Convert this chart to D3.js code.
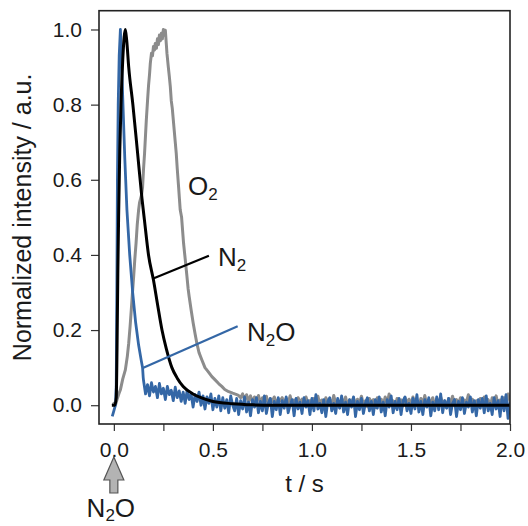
<!DOCTYPE html>
<html>
<head>
<meta charset="utf-8">
<script src="https://cdn.jsdelivr.net/npm/d3@7"></script>
<style>
  body { margin: 0; background: #fff; }
  svg text { font-family: "Liberation Sans", Arial, sans-serif; fill: #1a1a1a; }
</style>
</head>
<body>
<div id="vis"></div>
<script>
const FRAME_WIDTH = 528;
const FRAME_HEIGHT = 526;
const MARGINS = {left: 99, right: 18, top: 10.7, bottom: 102};

// tick values
const X_MAJOR = [0, 0.5, 1.0, 1.5, 2.0];
const X_MINOR = [0.25, 0.75, 1.25, 1.75];
const Y_TICKS = [0, 0.2, 0.4, 0.6, 0.8, 1.0];

// N2O (blue) pulse as [t, value]
const n2oPeak = [
  [-0.008, -0.03], [0.0, -0.015], [0.008, 0.0], [0.012, 0.05], [0.015, 0.3],
  [0.018, 0.6], [0.022, 0.8], [0.027, 0.93], [0.033, 1.0], [0.038, 0.93],
  [0.046, 0.8], [0.055, 0.66], [0.066, 0.52], [0.08, 0.4], [0.095, 0.3],
  [0.11, 0.22], [0.125, 0.16], [0.138, 0.12], [0.145, 0.1], [0.148, 0.075]
];
// N2O noisy tail, one value every 0.01 s from t = 0.15
const n2oTailStart = 0.15;
const n2oTail = [
  0.065, 0.03, 0.055, 0.025, 0.06, 0.035, 0.05, 0.02, 0.058, 0.03,
  0.045, 0.015, 0.05, 0.028, 0.04, 0.012, 0.048, 0.02, 0.038, 0.01,
  0.035, 0.005, 0.04, 0.015, 0.03, -0.005, 0.028, 0.01, 0.035, 0.0,
  0.025, -0.01, 0.022, 0.005, 0.03, -0.012, 0.018, -0.005, 0.025, -0.015,
  0.02, -0.008, 0.015, -0.02, 0.025, 0.0, -0.015, 0.018, -0.025, 0.012,
  -0.01, 0.022, -0.018, 0.008, -0.028, 0.015, -0.005, 0.02, -0.02, 0.01,
  -0.015, 0.025, -0.022, 0.005, 0.018, -0.03, 0.01, -0.012, 0.02, -0.025,
  0.012, -0.008, 0.022, -0.02, 0.0, 0.015, -0.028, 0.018, -0.01, 0.008,
  -0.022, 0.02, -0.005, 0.012, -0.025, 0.018, -0.015, 0.028, -0.01, 0.005,
  -0.02, 0.015, -0.03, 0.01, 0.02, -0.015, 0.005, -0.022, 0.018, -0.008,
  0.025, -0.018, 0.008, -0.025, 0.015, -0.005, 0.022, -0.03, 0.01, -0.012,
  0.018, -0.022, 0.005, 0.02, -0.015, 0.01, -0.025, 0.015, -0.008, 0.022,
  -0.018, 0.008, -0.028, 0.015, -0.005, 0.025, -0.02, 0.01, -0.012, 0.018,
  -0.025, 0.012, 0.022, -0.015, 0.005, -0.022, 0.018, -0.01, 0.028, -0.018,
  0.01, -0.025, 0.015, -0.005, 0.02, -0.028, 0.008, -0.015, 0.022, -0.012,
  0.03, -0.02, 0.012, -0.008, 0.018, -0.025, 0.005, 0.015, -0.03, 0.01,
  -0.012, 0.02, -0.022, 0.008, -0.005, 0.022, -0.018, 0.012, -0.028, 0.015,
  -0.008, 0.018, -0.02, 0.025, -0.015, 0.005, -0.025, 0.02, -0.01, 0.012,
  -0.03, 0.022, -0.015, 0.028, -0.035, 0.01
];

// O2 (gray) pulse
const o2Peak = [
  [-0.005, 0.0], [0.0, 0.005], [0.008, 0.0], [0.016, 0.015], [0.025, 0.03],
  [0.033, 0.041], [0.045, 0.07], [0.058, 0.094], [0.068, 0.13], [0.075, 0.165],
  [0.082, 0.21], [0.088, 0.254], [0.094, 0.3], [0.1, 0.343], [0.106, 0.39],
  [0.112, 0.431], [0.118, 0.48], [0.125, 0.52], [0.13, 0.54], [0.135, 0.55],
  [0.14, 0.56], [0.145, 0.58], [0.15, 0.63], [0.155, 0.67], [0.16, 0.72],
  [0.164, 0.76], [0.17, 0.81], [0.175, 0.85], [0.18, 0.88], [0.184, 0.91],
  [0.19, 0.937], [0.195, 0.93], [0.2, 0.955], [0.205, 0.945], [0.209, 0.963],
  [0.215, 0.95], [0.22, 0.975], [0.225, 0.96], [0.23, 0.985], [0.235, 0.97],
  [0.24, 0.99], [0.245, 0.975], [0.25, 1.0], [0.255, 0.985], [0.26, 0.998],
  [0.265, 0.96], [0.268, 0.937], [0.275, 0.9], [0.28, 0.875], [0.285, 0.848],
  [0.29, 0.81], [0.295, 0.79], [0.3, 0.76], [0.305, 0.73], [0.31, 0.7],
  [0.315, 0.67], [0.32, 0.63], [0.327, 0.58], [0.331, 0.55], [0.335, 0.52],
  [0.342, 0.5], [0.352, 0.431], [0.36, 0.39], [0.369, 0.343], [0.375, 0.31],
  [0.38, 0.29], [0.39, 0.254], [0.4, 0.22], [0.41, 0.19], [0.419, 0.165],
  [0.43, 0.14], [0.444, 0.121], [0.46, 0.1], [0.475, 0.09], [0.495, 0.076],
  [0.51, 0.068], [0.53, 0.057], [0.545, 0.05], [0.56, 0.042], [0.58, 0.036],
  [0.6, 0.032], [0.627, 0.027], [0.64, 0.02]
];
const o2TailStart = 0.65;
const o2Tail = [
  0.03, 0.015, 0.028, 0.01, 0.025, 0.008, 0.022, 0.012, 0.026, 0.005,
  0.02, 0.008, 0.024, 0.0, 0.018, 0.01, 0.022, 0.002, 0.016, 0.012,
  0.02, -0.002, 0.018, 0.006, 0.025, 0.004, 0.014, -0.004, 0.02, 0.008,
  0.016, 0.0, 0.022, 0.006, 0.012, -0.005, 0.018, 0.01, 0.024, 0.002,
  0.014, -0.004, 0.02, 0.008, 0.015, 0.0, 0.026, 0.005, 0.012, -0.006,
  0.018, 0.004, 0.022, -0.002, 0.014, 0.008, 0.02, 0.0, 0.016, 0.006,
  0.024, 0.002, 0.012, -0.004, 0.018, 0.008, 0.015, -0.006, 0.02, 0.004,
  0.016, 0.0, 0.022, 0.006, 0.03, 0.002, 0.012, -0.005, 0.018, 0.008,
  0.014, -0.002, 0.02, 0.005, 0.016, 0.0, 0.022, 0.008, 0.012, -0.004,
  0.018, 0.004, 0.026, 0.0, 0.014, 0.008, 0.02, -0.003, 0.016, 0.006,
  0.022, 0.002, 0.012, -0.006, 0.018, 0.006, 0.024, 0.0, 0.015, 0.004,
  0.02, -0.002, 0.014, 0.008, 0.028, 0.002, 0.016, -0.004, 0.012, 0.006,
  0.018, 0.0, 0.022, 0.004, 0.015, -0.005, 0.02, 0.008, 0.025, 0.002,
  0.014, -0.003, 0.02, 0.006, 0.03, 0.01
];

// N2 (black) smooth response
const n2Curve = [
  [-0.01, 0.0], [0.005, 0.0], [0.012, 0.02], [0.016, 0.15], [0.02, 0.35],
  [0.024, 0.5], [0.03, 0.68], [0.036, 0.8], [0.045, 0.92], [0.052, 0.98],
  [0.058, 1.0], [0.065, 0.97], [0.075, 0.9], [0.096, 0.8], [0.12, 0.67],
  [0.142, 0.55], [0.155, 0.49], [0.175, 0.4], [0.2, 0.333], [0.22, 0.27],
  [0.243, 0.2], [0.265, 0.15], [0.293, 0.1], [0.32, 0.072], [0.35, 0.05],
  [0.4, 0.03], [0.44, 0.02], [0.5, 0.01], [0.6, 0.004], [0.7, 0.001],
  [0.8, 0.0], [2.0, 0.0]
];

// label leader lines [t, value] -> [t, value]
const n2Leader = [[0.199, 0.337], [0.48, 0.398]];
const n2oLeader = [[0.149, 0.1], [0.625, 0.21]];

const BLUE = "#3467a6";
const GRAY = "#8c8c8c";

const tailPoints = (start, vals) => vals.map((v, i) => [start + i * 0.01, v]);
const n2oData = n2oPeak.concat(tailPoints(n2oTailStart, n2oTail));
const o2Data = o2Peak.concat(tailPoints(o2TailStart, o2Tail));

const FRAME1 = d3.select("#vis")
  .append("svg")
    .attr("width", FRAME_WIDTH)
    .attr("height", FRAME_HEIGHT);

const X_SCALE = d3.scaleLinear()
  .domain([-0.075, 2.0])
  .range([MARGINS.left, FRAME_WIDTH - MARGINS.right]);
const Y_SCALE = d3.scaleLinear()
  .domain([-0.05, 1.05])
  .range([FRAME_HEIGHT - MARGINS.bottom, MARGINS.top]);

const BOTTOM = FRAME_HEIGHT - MARGINS.bottom;

FRAME1.append("clipPath").attr("id", "plot-clip")
  .append("rect")
    .attr("x", MARGINS.left)
    .attr("y", MARGINS.top)
    .attr("width", FRAME_WIDTH - MARGINS.left - MARGINS.right)
    .attr("height", BOTTOM - MARGINS.top);

const line = d3.line()
  .x(d => X_SCALE(d[0]))
  .y(d => Y_SCALE(d[1]));

const plot = FRAME1.append("g").attr("clip-path", "url(#plot-clip)");

plot.append("path").datum(o2Data)
  .attr("d", line)
  .attr("fill", "none")
  .attr("stroke", GRAY)
  .attr("stroke-width", 3)
  .attr("stroke-linejoin", "round");

plot.append("path").datum(n2oData)
  .attr("d", line)
  .attr("fill", "none")
  .attr("stroke", BLUE)
  .attr("stroke-width", 2.8)
  .attr("stroke-linejoin", "round");

plot.append("path").datum(n2Curve)
  .attr("d", d3.line().curve(d3.curveMonotoneX).x(d => X_SCALE(d[0])).y(d => Y_SCALE(d[1])))
  .attr("fill", "none")
  .attr("stroke", "#000")
  .attr("stroke-width", 3)
  .attr("stroke-linejoin", "round");

// leader lines
FRAME1.append("path").datum(n2Leader)
  .attr("d", line).attr("stroke", "#000").attr("stroke-width", 2.2);
FRAME1.append("path").datum(n2oLeader)
  .attr("d", line).attr("stroke", BLUE).attr("stroke-width", 2.2);

// axes
FRAME1.append("g")
  .attr("transform", "translate(0," + BOTTOM + ")")
  .call(d3.axisBottom(X_SCALE).tickValues(X_MAJOR).tickSize(7).tickPadding(11)
    .tickFormat(d3.format(".1f")));
FRAME1.append("g")
  .attr("transform", "translate(0," + BOTTOM + ")")
  .call(d3.axisBottom(X_SCALE).tickValues(X_MINOR).tickSize(7).tickFormat(""));

FRAME1.append("g")
  .attr("transform", "translate(" + MARGINS.left + ",0)")
  .call(d3.axisLeft(Y_SCALE).tickValues(Y_TICKS).tickSize(8).tickPadding(9)
    .tickFormat(d3.format(".1f")));

FRAME1.selectAll(".domain").remove();
FRAME1.selectAll(".tick line").attr("stroke", "#333").attr("stroke-width", 1.2);
FRAME1.selectAll(".tick text")
  .attr("font-size", 21)
  .attr("font-family", "Liberation Sans, Arial, sans-serif")
  .attr("fill", "#1a1a1a");

// frame
FRAME1.append("rect")
  .attr("x", MARGINS.left)
  .attr("y", MARGINS.top)
  .attr("width", FRAME_WIDTH - MARGINS.left - MARGINS.right)
  .attr("height", BOTTOM - MARGINS.top)
  .attr("fill", "none")
  .attr("stroke", "#222")
  .attr("stroke-width", 1.6);

// axis titles
FRAME1.append("text")
  .attr("transform", "translate(31," + ((MARGINS.top + BOTTOM) / 2) + ") rotate(-90)")
  .attr("text-anchor", "middle")
  .attr("font-size", 25)
  .text("Normalized intensity / a.u.");

FRAME1.append("text")
  .attr("x", (MARGINS.left + FRAME_WIDTH - MARGINS.right) / 2)
  .attr("y", 492)
  .attr("text-anchor", "middle")
  .attr("font-size", 24)
  .text("t / s");

// series labels with subscripts
function label(x, y, parts, anchor, subShift) {
  const shift = subShift || 5;
  const t = FRAME1.append("text")
    .attr("x", x).attr("y", y)
    .attr("font-size", 26)
    .attr("text-anchor", anchor || "start");
  parts.forEach(p => {
    if (p.sub) {
      t.append("tspan").attr("font-size", 17).attr("dy", shift).text(p.s);
    } else {
      t.append("tspan").attr("dy", p.back ? -shift : 0).text(p.s);
    }
  });
}
label(188, 195, [{s: "O"}, {s: "2", sub: true}]);
label(218, 266, [{s: "N"}, {s: "2", sub: true}]);
label(247, 341, [{s: "N"}, {s: "2", sub: true}, {s: "O", back: true}]);

// injection arrow under t = 0
const x0 = X_SCALE(0);
const arrow = [
  [x0, 457], [x0 + 10, 480], [x0 + 4, 480], [x0 + 4, 493],
  [x0 - 4, 493], [x0 - 4, 480], [x0 - 10, 480]
];
FRAME1.append("polygon")
  .attr("points", arrow.map(p => p.join(",")).join(" "))
  .attr("fill", "#b3b3b3")
  .attr("stroke", "#555")
  .attr("stroke-width", 1.2)
  .attr("stroke-linejoin", "miter");

label(x0 - 3, 517, [{s: "N"}, {s: "2", sub: true}, {s: "O", back: true}], "middle", 3.5);
</script>
</body>
</html>
